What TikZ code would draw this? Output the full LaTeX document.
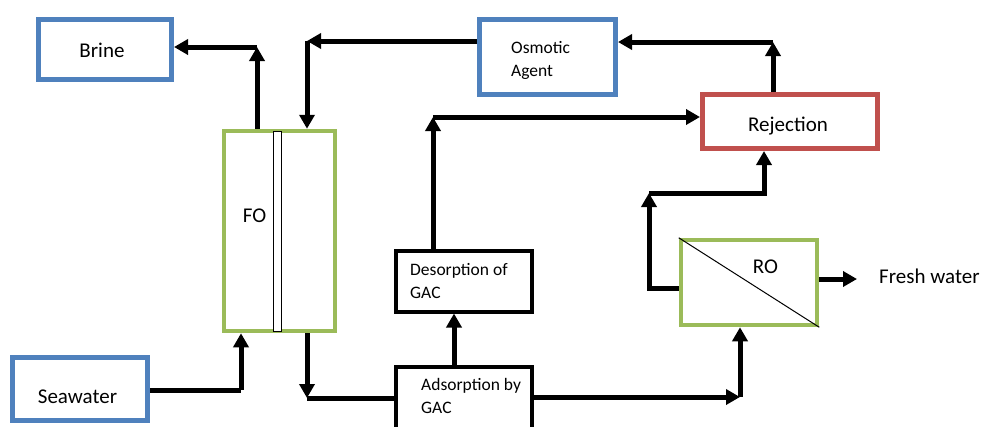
\documentclass[tikz,border=0pt]{standalone}
\usepackage{fontspec}
\setmainfont{Carlito}
\usetikzlibrary{arrows.meta}
\definecolor{boxblue}{RGB}{79,129,189}
\definecolor{boxgreen}{RGB}{155,187,89}
\definecolor{boxred}{RGB}{192,80,77}
\newcommand{\bigtext}{\fontsize{21}{25}\selectfont}
\newcommand{\smalltext}{\fontsize{17.5}{23}\selectfont}

\begin{document}
\begin{tikzpicture}[x=1pt, y=-1pt]
  \tikzset{
    bluebox/.style={draw=boxblue, line width=5pt, inner sep=0pt},
    greenbox/.style={draw=boxgreen, line width=4.5pt, inner sep=0pt},
    redbox/.style={draw=boxred, line width=5pt, inner sep=0pt},
    gacbox/.style={draw=black, line width=4pt, inner sep=0pt},
    flow/.style={line width=5pt, -{Triangle[length=14pt,width=15pt]}},
    pipe/.style={line width=5pt},
    lbl/.style={font=\bigtext, inner sep=0pt, anchor=base},
    note/.style={font=\smalltext, inner sep=0pt, align=left, anchor=base west}
  }
  \useasboundingbox (0,0) rectangle (987,426);

  % boxes
  \node[bluebox, minimum width=133pt, minimum height=60pt] (brine) at (105,49.5) {};
  \node[bluebox, minimum width=136pt, minimum height=75pt] (osmotic) at (547.5,57) {};
  \node[redbox, minimum width=175pt, minimum height=54pt] (rejection) at (790,121.5) {};
  \node[greenbox, minimum width=111pt, minimum height=200pt] (fo) at (279.5,231) {};
  \node[draw, line width=1pt, fill=white, minimum width=8pt, minimum height=200pt, inner sep=0pt] (membrane) at (277.5,231.5) {};
  \node[gacbox, minimum width=136pt, minimum height=61pt] (desorption) at (463.5,281) {};
  \node[gacbox, minimum width=136pt, minimum height=80pt] (adsorption) at (463.5,406.5) {};
  \node[greenbox, minimum width=136pt, minimum height=85pt] (ro) at (749,282.5) {};
  \node[bluebox, minimum width=135pt, minimum height=63pt] (seawater) at (80,389) {};
  \draw[line width=1pt] (ro.north west) -- (ro.south east);

  % labels (multi-line ones sit on their last baseline)
  \node[lbl] (brine-text) at (102,57) {Brine};
  \node[note] (osmotic-text) at (511,76.5) {Osmotic\\Agent};
  \node[lbl] (rejection-text) at (788,131.5) {Rejection};
  \node[lbl] (fo-text) at (254.5,222) {FO};
  \node[note] (desorption-text) at (410,298) {Desorption of\\GAC};
  \node[note] (adsorption-text) at (421,413.5) {Adsorption by\\GAC};
  \node[lbl] (ro-text) at (765.5,273) {RO};
  \node[lbl, anchor=base west] (fresh) at (879,283) {Fresh water};
  \node[lbl] (seawater-text) at (77.5,403) {Seawater};

  % corners
  \coordinate (c1) at (257,47);
  \coordinate (c2) at (307,41);
  \coordinate (c3) at (773,42);
  \coordinate (c4) at (433,117);
  \coordinate (c6) at (241,390);
  \coordinate (c7) at (307,398);
  \coordinate (c8) at (740,397);
  \coordinate (c9a) at (649,288);
  \coordinate (c9) at (649,193);
  \coordinate (c9b) at (764,193);
  \coordinate (c10) at (857,279);

  % flows
  \draw[flow] (c1 |- fo.north) -- (c1);
  \draw[flow] (c1) -- (brine.east |- c1);
  \draw[flow] (osmotic.west |- c2) -- (c2);
  \draw[flow] (c2) -- (c2 |- fo.north);
  \draw[flow] (c3 |- rejection.north) -- (c3);
  \draw[flow] (c3) -- (osmotic.east |- c3);
  \draw[flow] (c4 |- desorption.north) -- (c4);
  \draw[flow] (c4) -- (rejection.west |- c4);
  \draw[flow] ([xshift=-9.5pt]adsorption.north) -- ([xshift=-9.5pt]desorption.south);
  \draw[pipe] (seawater.east |- c6) -- (c6);
  \draw[flow] (c6) -- (c6 |- fo.south);
  \draw[flow] (c7 |- fo.south) -- (c7);
  \draw[pipe] (c7) -- (adsorption.west |- c7);
  \draw[flow] (adsorption.east |- c8) -- (c8);
  \draw[flow] (c8) -- (c8 |- ro.south);
  \draw[flow] (ro.west |- c9a) -- (c9a) -- (c9);
  \draw[flow] (c9) -- (c9b) -- (c9b |- rejection.south);
  \draw[flow] (ro.east |- c10) -- (c10);
\end{tikzpicture}
\end{document}
